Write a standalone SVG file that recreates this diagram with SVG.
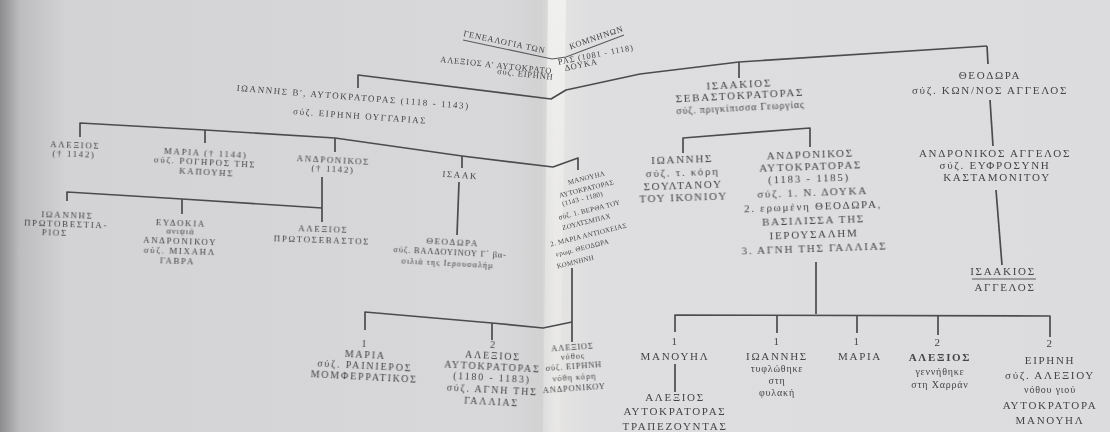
<svg xmlns="http://www.w3.org/2000/svg" width="1110" height="432" viewBox="0 0 1110 432">
<defs>
<linearGradient id="pg" x1="0" y1="0" x2="1110" y2="0" gradientUnits="userSpaceOnUse">
 <stop offset="0" stop-color="#8c8c8f"/>
 <stop offset="0.018" stop-color="#bdbdc0"/>
 <stop offset="0.06" stop-color="#d3d3d6"/>
 <stop offset="0.45" stop-color="#d8d8da"/>
 <stop offset="0.488" stop-color="#d2d2d3"/>
 <stop offset="0.5" stop-color="#e6e5e3"/>
 <stop offset="0.53" stop-color="#dedee0"/>
 <stop offset="1" stop-color="#dcdcdf"/>
</linearGradient>
<linearGradient id="glare" x1="0" y1="0" x2="0" y2="1">
 <stop offset="0" stop-color="#f2f2f0" stop-opacity="0.9"/>
 <stop offset="0.5" stop-color="#efefed" stop-opacity="0.5"/>
 <stop offset="1" stop-color="#ececec" stop-opacity="0.35"/>
</linearGradient>
<filter id="soft" x="-5%" y="-5%" width="110%" height="110%"><feGaussianBlur stdDeviation="0.35"/></filter>
<style>
 .ln{fill:none;stroke:#4c4c4f;stroke-width:1.7;stroke-linejoin:round}
 .ul{fill:none;stroke:#5a5a5d;stroke-width:1.1}
 text{font-family:"Liberation Serif","DejaVu Serif",serif;fill:#454548;text-anchor:middle}
 .a{font-size:9px;letter-spacing:1.6px}
 .a2{font-size:8.5px;letter-spacing:0.8px}
 .c{font-size:10px;letter-spacing:1.8px}
 .b{font-size:11px;letter-spacing:1.7px}
 .m{font-size:7px;letter-spacing:0.3px}
 .s{font-size:8.5px;letter-spacing:0.9px}
 .sl{font-size:10px;letter-spacing:0.8px}
 .bd{font-weight:bold}
</style>
</defs>

<rect x="0" y="0" width="1110" height="432" fill="url(#pg)"/>
<polygon points="548,0 566,0 560,432 543,432" fill="url(#glare)"/>

<g id="connectors" filter="url(#soft)">
 <polyline class="ln" points="358,88 358,75 551,99 566,90 640,74 739,62 987,46"/>
 <line class="ln" x1="739" y1="62" x2="739" y2="78"/>
 <line class="ln" x1="987" y1="46" x2="988" y2="64"/>
 <polyline class="ln" points="80,137 80,123 205,130 335,138 462,156 553,167 578,158 578,170"/>
 <line class="ln" x1="205" y1="130" x2="205" y2="143"/>
 <line class="ln" x1="335" y1="138" x2="335" y2="152"/>
 <line class="ln" x1="462" y1="156" x2="462" y2="168"/>
 <line class="ln" x1="322" y1="177" x2="322" y2="222"/>
 <polyline class="ln" points="67,201 67,192 182,199 322,208"/>
 <line class="ln" x1="182" y1="199" x2="182" y2="214"/>
 <line class="ln" x1="459" y1="182" x2="457" y2="235"/>
 <line class="ln" x1="572" y1="268" x2="572" y2="342"/>
 <polyline class="ln" points="365,330 365,312 492,323 543,328 572,322"/>
 <line class="ln" x1="492" y1="323" x2="492" y2="340"/>
 <polyline class="ln" points="683,153 683,138 810,128 810,147"/>
 <line class="ln" x1="990" y1="100" x2="993" y2="146"/>
 <line class="ln" x1="996" y1="190" x2="1002" y2="265"/>
 <line class="ln" x1="816" y1="262" x2="816" y2="314"/>
 <polyline class="ln" points="675,332 675,315 1050,316 1050,337"/>
 <line class="ln" x1="777" y1="315" x2="777" y2="333"/>
 <line class="ln" x1="857" y1="315" x2="857" y2="333"/>
 <line class="ln" x1="938" y1="316" x2="938" y2="335"/>
 <line class="ln" x1="675" y1="364" x2="675" y2="392"/>
</g>

<g id="title" filter="url(#soft)">
 <text class="a2" style="text-anchor:start" x="463" y="36" transform="rotate(12 463 36)">ΓΕΝΕΑΛΟΓΙΑ ΤΩΝ</text>
 <text class="a2" style="text-anchor:end" x="624" y="31" transform="rotate(-19 624 31)">ΚΟΜΝΗΝΩΝ</text>
 <polyline class="ul" points="463,40 552,59 566,57 624,35"/>
</g>

<g id="alexios1" filter="url(#soft)">
 <text class="a2" style="text-anchor:start" x="440" y="62" transform="rotate(6 440 62)">ΑΛΕΞΙΟΣ Α' ΑΥΤΟΚΡΑΤΟ</text>
 <text class="a2" style="text-anchor:end" x="634" y="50" transform="rotate(-11 634 50)">ΡΑΣ (1081 - 1118)</text>
 <text class="a2" style="text-anchor:start" x="497" y="74" transform="rotate(6 497 74)">σύζ. ΕΙΡΗΝΗ</text>
 <text class="a2" style="text-anchor:end" x="598" y="64" transform="rotate(-12 598 64)">ΔΟΥΚΑ</text>
</g>

<g id="ioannis2" filter="url(#soft)">
 <text class="a" x="353" y="100" transform="rotate(4.5 353 100)">ΙΩΑΝΝΗΣ Β', ΑΥΤΟΚΡΑΤΟΡΑΣ (1118 - 1143)</text>
 <text class="a" x="360" y="119" transform="rotate(4 360 119)">σύζ. ΕΙΡΗΝΗ ΟΥΓΓΑΡΙΑΣ</text>
</g>

<g id="alexios-1142" filter="url(#soft)" transform="rotate(2 75 150)">
 <text class="a" x="75" y="148">ΑΛΕΞΙΟΣ</text>
 <text class="a" x="74" y="157">(† 1142)</text>
</g>

<g id="maria-1144" filter="url(#soft)" transform="rotate(3 205 165)">
 <text class="a" x="205" y="156">ΜΑΡΙΑ († 1144)</text>
 <text class="a" x="205" y="165">σύζ. ΡΟΓΗΡΟΣ ΤΗΣ</text>
 <text class="a" x="207" y="175">ΚΑΠΟΥΗΣ</text>
</g>

<g id="andronikos-1142" filter="url(#soft)" transform="rotate(3 333 167)">
 <text class="a" x="333" y="163">ΑΝΔΡΟΝΙΚΟΣ</text>
 <text class="a" x="333" y="172">(† 1142)</text>
</g>

<g id="isaak" filter="url(#soft)">
 <text class="a" x="460" y="178" transform="rotate(4 460 178)">ΙΣΑΑΚ</text>
</g>

<g id="manouil" filter="url(#soft)">
 <text class="m" x="587" y="180" transform="rotate(-14 587 180)">ΜΑΝΟΥΗΛ</text>
 <text class="m" x="587" y="191" transform="rotate(-14 587 191)">ΑΥΤΟΚΡΑΤΟΡΑΣ</text>
 <text class="m" x="583" y="201" transform="rotate(-14 583 201)">(1143 - 1180)</text>
 <text class="m" x="590" y="212" transform="rotate(-14 590 212)">σύζ. 1. ΒΕΡΘΑ ΤΟΥ</text>
 <text class="m" x="587" y="224" transform="rotate(-14 587 224)">ΖΟΥΛΤΣΜΠΑΧ</text>
 <text class="m" x="589" y="237" transform="rotate(-14 589 237)">2. ΜΑΡΙΑ ΑΝΤΙΟΧΕΙΑΣ</text>
 <text class="m" x="583" y="250" transform="rotate(-14 583 250)">ερωμ. ΘΕΟΔΩΡΑ</text>
 <text class="m" x="576" y="264" transform="rotate(-14 576 264)">ΚΟΜΝΗΝΗ</text>
</g>

<g id="ioannis-protovestiarios" filter="url(#soft)" transform="rotate(2 67 226)">
 <text class="a" x="67" y="218">ΙΩΑΝΝΗΣ</text>
 <text class="a" x="66" y="227">ΠΡΩΤΟΒΕΣΤΙΑ-</text>
 <text class="a" x="55" y="236">ΡΙΟΣ</text>
</g>

<g id="evdokia" filter="url(#soft)" transform="rotate(2 180 245)">
 <text class="a" x="180" y="226">ΕΥΔΟΚΙΑ</text>
 <text class="s" x="180" y="234">ανιψιά</text>
 <text class="a" x="180" y="244">ΑΝΔΡΟΝΙΚΟΥ</text>
 <text class="a" x="180" y="254">σύζ. ΜΙΧΑΗΛ</text>
 <text class="a" x="178" y="264">ΓΑΒΡΑ</text>
</g>

<g id="alexios-protosevastos" filter="url(#soft)" transform="rotate(2 322 237)">
 <text class="a" x="323" y="232">ΑΛΕΞΙΟΣ</text>
 <text class="a" x="322" y="243">ΠΡΩΤΟΣΕΒΑΣΤΟΣ</text>
</g>

<g id="theodora-valdouinos" filter="url(#soft)" transform="rotate(3 450 255)">
 <text class="a" x="452" y="245">ΘΕΟΔΩΡΑ</text>
 <text class="a2" x="450" y="255">σύζ. ΒΑΛΔΟΥΙΝΟΥ Γ΄ βα-</text>
 <text class="s" x="448" y="266">σιλιά της Ιερουσαλήμ</text>
</g>

<g id="maria-rainieros" filter="url(#soft)" transform="rotate(3 365 362)">
 <text class="c" x="364" y="347">1</text>
 <text class="c" x="365" y="358">ΜΑΡΙΑ</text>
 <text class="c" x="365" y="369">σύζ. ΡΑΙΝΙΕΡΟΣ</text>
 <text class="c" x="365" y="380">ΜΟΜΦΕΡΡΑΤΙΚΟΣ</text>
</g>

<g id="alexios2" filter="url(#soft)" transform="rotate(3 492 376)">
 <text class="c" x="492" y="348">2</text>
 <text class="c" x="492" y="359">ΑΛΕΞΙΟΣ</text>
 <text class="c" x="492" y="370">ΑΥΤΟΚΡΑΤΟΡΑΣ</text>
 <text class="c" x="492" y="381">(1180 - 1183)</text>
 <text class="c" x="493" y="393">σύζ. ΑΓΝΗ ΤΗΣ</text>
 <text class="c" x="493" y="405">ΓΑΛΛΙΑΣ</text>
</g>

<g id="alexios-nothos" filter="url(#soft)" transform="rotate(-4 574 370)">
 <text class="a2" x="574" y="350">ΑΛΕΞΙΟΣ</text>
 <text class="s" x="574" y="359">νόθος</text>
 <text class="a2" x="574" y="369">σύζ. ΕΙΡΗΝΗ</text>
 <text class="s" x="574" y="380">νόθη κόρη</text>
 <text class="a2" x="573" y="391">ΑΝΔΡΟΝΙΚΟΥ</text>
</g>

<g id="isaakios-sevastokratoras" filter="url(#soft)" transform="rotate(-3 740 99)">
 <text class="b" x="740" y="88">ΙΣΑΑΚΙΟΣ</text>
 <text class="b" x="740" y="99">ΣΕΒΑΣΤΟΚΡΑΤΟΡΑΣ</text>
 <text class="sl" x="740" y="111">σύζ. πριγκίπισσα Γεωργίας</text>
</g>

<g id="theodora-angelos" filter="url(#soft)">
 <text class="b" x="990" y="79">ΘΕΟΔΩΡΑ</text>
 <text class="b" x="990" y="94">σύζ. ΚΩΝ/ΝΟΣ ΑΓΓΕΛΟΣ</text>
</g>

<g id="ioannis-ikonio" filter="url(#soft)" transform="rotate(-2 683 182)">
 <text class="b" x="683" y="163">ΙΩΑΝΝΗΣ</text>
 <text class="b" x="683" y="176">σύζ. τ. κόρη</text>
 <text class="b" x="683" y="189">ΣΟΥΛΤΑΝΟΥ</text>
 <text class="b" x="683" y="201">ΤΟΥ ΙΚΟΝΙΟΥ</text>
</g>

<g id="andronikos-aftokratoras" filter="url(#soft)" transform="rotate(-2 812 205)">
 <text class="b" x="812" y="158">ΑΝΔΡΟΝΙΚΟΣ</text>
 <text class="b" x="812" y="170">ΑΥΤΟΚΡΑΤΟΡΑΣ</text>
 <text class="b" x="810" y="182">(1183 - 1185)</text>
 <text class="b" x="813" y="196">σύζ. 1. Ν. ΔΟΥΚΑ</text>
 <text class="b" x="813" y="210">2. ερωμένη ΘΕΟΔΩΡΑ,</text>
 <text class="b" x="813" y="224">ΒΑΣΙΛΙΣΣΑ ΤΗΣ</text>
 <text class="b" x="813" y="238">ΙΕΡΟΥΣΑΛΗΜ</text>
 <text class="b" x="813" y="252">3. ΑΓΝΗ ΤΗΣ ΓΑΛΛΙΑΣ</text>
</g>

<g id="andronikos-angelos" filter="url(#soft)">
 <text class="b" x="995" y="157">ΑΝΔΡΟΝΙΚΟΣ ΑΓΓΕΛΟΣ</text>
 <text class="b" x="995" y="169">σύζ. ΕΥΦΡΟΣΥΝΗ</text>
 <text class="b" x="997" y="181">ΚΑΣΤΑΜΟΝΙΤΟΥ</text>
</g>

<g id="isaakios-angelos" filter="url(#soft)">
 <text class="b" x="1003" y="275">ΙΣΑΑΚΙΟΣ</text>
 <line class="ul" x1="972" y1="279" x2="1036" y2="279"/>
 <text class="b" x="1005" y="291">ΑΓΓΕΛΟΣ</text>
</g>

<g id="manouil-trapezounta" filter="url(#soft)">
 <text class="b" x="675" y="345">1</text>
 <text class="b" x="675" y="360">ΜΑΝΟΥΗΛ</text>
 <text class="b" x="675" y="401">ΑΛΕΞΙΟΣ</text>
 <text class="b" x="675" y="415">ΑΥΤΟΚΡΑΤΟΡΑΣ</text>
 <text class="b" x="675" y="430">ΤΡΑΠΕΖΟΥΝΤΑΣ</text>
</g>

<g id="ioannis-tyflothike" filter="url(#soft)">
 <text class="b" x="777" y="345">1</text>
 <text class="b" x="777" y="360">ΙΩΑΝΝΗΣ</text>
 <text class="sl" x="777" y="372">τυφλώθηκε</text>
 <text class="sl" x="777" y="384">στη</text>
 <text class="sl" x="777" y="396">φυλακή</text>
</g>

<g id="maria" filter="url(#soft)">
 <text class="b" x="857" y="345">1</text>
 <text class="b" x="860" y="360">ΜΑΡΙΑ</text>
</g>

<g id="alexios-harran" filter="url(#soft)">
 <text class="b" x="938" y="346">2</text>
 <text class="b bd" x="940" y="361">ΑΛΕΞΙΟΣ</text>
 <text class="sl" x="940" y="375">γεννήθηκε</text>
 <text class="sl" x="940" y="388">στη Χαρράν</text>
</g>

<g id="eirini" filter="url(#soft)">
 <text class="b" x="1050" y="347">2</text>
 <text class="b" x="1050" y="364">ΕΙΡΗΝΗ</text>
 <text class="b" x="1050" y="379">σύζ. ΑΛΕΞΙΟΥ</text>
 <text class="sl" x="1050" y="393">νόθου γιού</text>
 <text class="b" x="1050" y="409">ΑΥΤΟΚΡΑΤΟΡΑ</text>
 <text class="b" x="1050" y="424">ΜΑΝΟΥΗΛ</text>
</g>
</svg>
